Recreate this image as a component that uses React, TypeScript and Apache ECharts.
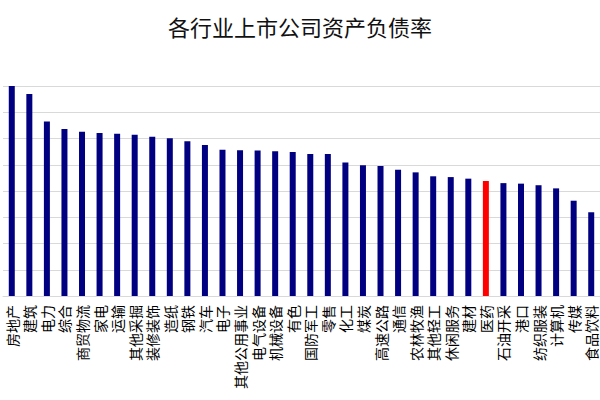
import React, { useEffect, useRef } from "react";
import * as echarts from "echarts";

const categories = [
  "房地产", "建筑", "电力", "综合", "商贸物流", "家电", "运输", "其他采掘", "装修装饰", "造纸",
  "钢铁", "汽车", "电子", "其他公用事业", "电气设备", "机械设备", "有色", "国防军工", "零售", "化工",
  "煤炭", "高速公路", "通信", "农林牧渔", "其他轻工", "休闲服务", "建材", "医药", "石油开采", "港口",
  "纺织服装", "计算机", "传媒", "食品饮料",
];
const values = [
  80.1, 77.0, 66.5, 63.6, 62.6, 62.1, 61.8, 61.4, 60.7, 60.1,
  59.0, 57.5, 55.7, 55.5, 55.4, 55.1, 54.9, 54.1, 54.1, 50.9,
  49.8, 49.5, 48.1, 47.1, 45.6, 45.3, 44.7, 43.8, 43.0, 42.8,
  42.2, 41.0, 36.3, 31.9,
];
const highlighted = "医药";
const yTicks = { min: 0, max: 80, interval: 10 };

export default function App() {
  const ref = useRef<HTMLDivElement>(null);
  useEffect(() => {
    if (!ref.current) return;
    const chart = echarts.init(ref.current, null, { renderer: "svg" });
    chart.setOption({
      animation: false,
      backgroundColor: "#ffffff",
      title: {
        text: "各行业上市公司资产负债率",
        left: "center",
        top: 10,
        textStyle: {
          fontFamily: "Noto Sans CJK SC",
          fontWeight: "normal",
          fontSize: 22,
          color: "#111111",
        },
      },
      grid: { left: 3, right: 0, top: 86, bottom: 104, containLabel: false },
      xAxis: {
        type: "category",
        data: categories,
        axisTick: { show: false },
        axisLine: { lineStyle: { color: "#d9d9d9" } },
        axisLabel: {
          interval: 0,
          rotate: 90,
          margin: 9,
          fontSize: 14,
          color: "#000000",
          fontFamily: "Noto Sans CJK SC",
        },
      },
      yAxis: {
        type: "value",
        min: yTicks.min,
        max: yTicks.max,
        interval: yTicks.interval,
        axisLabel: { show: false },
        axisLine: { show: false },
        axisTick: { show: false },
        splitLine: { lineStyle: { color: "#d9d9d9", width: 1 } },
      },
      series: [
        {
          type: "bar",
          barWidth: 6,
          data: values.map((v, i) => ({
            value: v,
            itemStyle: { color: categories[i] === highlighted ? "#ff0000" : "#000080" },
          })),
        },
      ],
    });
    return () => chart.dispose();
  }, []);
  return <div ref={ref} style={{ width: 600, height: 400, position: "absolute", left: 0, top: 0 }} />;
}
